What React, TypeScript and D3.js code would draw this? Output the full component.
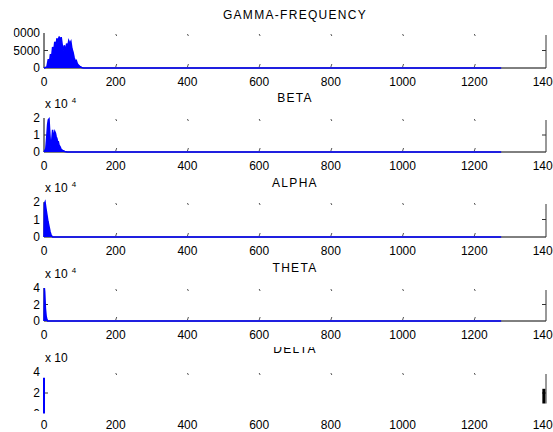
import * as d3 from "d3";

const xTicks = [0, 200, 400, 600, 800, 1000, 1200, 1400];
const titles = ["GAMMA-FREQUENCY", "BETA", "ALPHA", "THETA", "DELTA"];
const yMaxes = [10000, 2, 2, 4, 4];
const yTickSets = [[0, 5000, 10000], [0, 1, 2], [0, 1, 2], [0, 2, 4], [0, 2, 4]];
const exponents = ["", "4", "4", "4", ""];

const gammaData: [number, number][] = [
  [0, 0], [8, 300], [12, 2500], [15, 1500], [18, 4000], [21, 3000], [24, 6000],
  [27, 4500], [30, 7500], [33, 6000], [36, 8500], [39, 7000], [42, 9000], [45, 8000],
  [48, 8800], [51, 6500], [54, 5000], [57, 6500], [60, 4500], [63, 7000], [66, 6000],
  [69, 7800], [72, 7000], [75, 7600], [78, 5500], [81, 4500], [84, 3000], [87, 2000],
  [90, 2200], [93, 1200], [96, 800], [100, 500], [105, 150], [110, 0], [1275, 0],
];
const betaData: [number, number][] = [
  [0, 0], [5, 0.2], [8, 1.0], [10, 1.6], [12, 1.9], [14, 1.95], [16, 1.2], [18, 0.5],
  [20, 0.2], [22, 0.8], [24, 1.3], [26, 0.9], [28, 1.0], [30, 1.2], [32, 1.1], [34, 0.9],
  [36, 0.8], [38, 0.6], [40, 0.6], [42, 0.4], [45, 0.3], [48, 0.15], [52, 0.1],
  [58, 0.03], [65, 0], [1275, 0],
];
const alphaData: [number, number][] = [
  [0, 0], [1, 1.9], [3, 2.0], [5, 1.7], [8, 1.3], [11, 0.9], [14, 0.6], [17, 0.3],
  [20, 0.1], [24, 0], [1275, 0],
];
const thetaData: [number, number][] = [
  [0, 0], [1, 4], [2, 3.5], [3, 2.5], [4, 1.5], [6, 0.6], [8, 0.2], [10, 0], [1275, 0],
];
const deltaData: [number, number][] = [[0, 0.05], [0, 3.45]];
const deltaEnd: [number, number][] = [[1394, 1.0], [1394, 2.4]];

const seriesList = [gammaData, betaData, alphaData, thetaData, deltaData];

// panel frames: [top, bottom]
const frames: [number, number][] = [[33, 68], [118, 152], [202, 237], [288, 321], [372, 414]];
const titleY = [19, 102, 187, 272, 353];

const FONT = "'Liberation Sans', Arial, sans-serif";
const BLUE = "#0000ff";

export default function App() {
  const x = d3.scaleLinear().domain([0, 1400]).range([44, 546]);

  return (
    <svg width={553} height={432} style={{ position: "absolute", left: 0, top: 0, background: "#fff" }} fontFamily={FONT}>
      <defs>
        <clipPath id="clipLabel1"><rect x={13.5} y={0} width={540} height={90} /></clipPath>
        <clipPath id="clipDelta"><rect x={0} y={347} width={553} height={10} /></clipPath>
        <clipPath id="clipZero5"><rect x={0} y={360} width={553} height={51} /></clipPath>
      </defs>
      {frames.map(([top, bottom], i) => {
        const y = d3.scaleLinear().domain([0, yMaxes[i]]).range([bottom, top]);
        const area = d3.area<[number, number]>().x((d) => x(d[0])).y0(y(0)).y1((d) => y(d[1]));
        const line = d3.line<[number, number]>().x((d) => x(d[0])).y((d) => y(d[1]));
        const last = i === 4;
        const rightBottom = last ? y(1) : bottom;
        return (
          <g key={i}>
            {/* frame */}
            {!last && <line x1={x(0)} x2={x(1400)} y1={bottom} y2={bottom} stroke="#000" />}
            {!last && <line x1={x(0)} x2={x(0)} y1={top} y2={bottom} stroke="#000" />}
            <line x1={x(1400)} x2={x(1400)} y1={top + 2} y2={rightBottom} stroke="#333" />
            <line x1={x(1400) - 4} x2={x(1400)} y1={y(yMaxes[i] / 2)} y2={y(yMaxes[i] / 2)} stroke="#333" />
            <line x1={x(0)} x2={x(0) + 4} y1={y(yMaxes[i] / 2)} y2={y(yMaxes[i] / 2)} stroke="#333" />
            {xTicks.slice(1, -1).map((t) => (
              <g key={t} stroke="#555">
                <line x1={x(t)} x2={x(t) + 1} y1={top + 1} y2={top + 3} />
                {!last && <line x1={x(t)} x2={x(t) + 1} y1={bottom - 1} y2={bottom - 4} />}
              </g>
            ))}
            {/* data */}
            {!last && <path d={area(seriesList[i]) ?? ""} fill={BLUE} />}
            <path d={line(seriesList[i]) ?? ""} fill="none" stroke={BLUE} strokeWidth={last ? 2 : 1.5} />
            {last && <path d={line(deltaEnd) ?? ""} fill="none" stroke="#000" strokeWidth={3} />}
            {/* y tick labels */}
            <g clipPath={i === 0 ? "url(#clipLabel1)" : last ? "url(#clipZero5)" : undefined}>
              {yTickSets[i].map((t) => (
                <text key={t} x={40} y={y(t)} dy="0.36em" textAnchor="end" fontSize={12} fill="#000">{t}</text>
              ))}
            </g>
            {/* x tick labels */}
            {xTicks.map((t) => (
              <text key={t} x={x(t)} y={bottom + (last ? 11 : 14)} dy="0.36em" textAnchor="middle" fontSize={12} fill="#000">{t}</text>
            ))}
            {/* title */}
            <text x={x(700)} y={titleY[i]} textAnchor="middle" fontSize={12} letterSpacing={1.3} fill="#000"
              clipPath={last ? "url(#clipDelta)" : undefined}>{titles[i]}</text>
            {i > 0 && (
              <text x={45} y={top - 10} fontSize={12} fill="#000">
                x 10{exponents[i] && <tspan dx={4} dy={-5} fontSize={8}>{exponents[i]}</tspan>}
              </text>
            )}
          </g>
        );
      })}
    </svg>
  );
}
